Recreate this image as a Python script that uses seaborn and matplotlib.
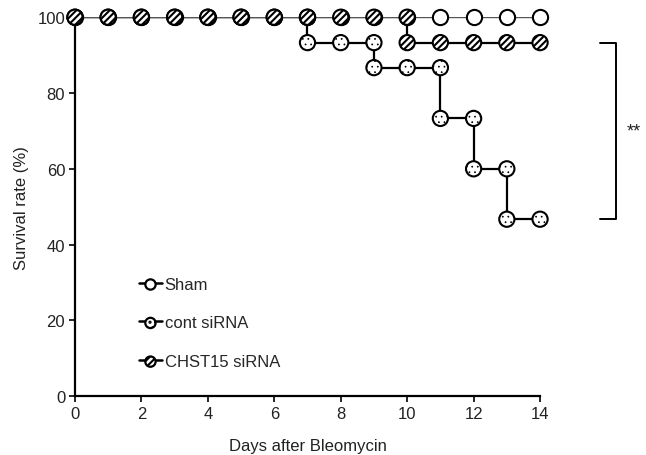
import matplotlib
matplotlib.use("Agg")
import matplotlib.pyplot as plt
import seaborn as sns
import pandas as pd
from matplotlib.lines import Line2D
from matplotlib.legend_handler import HandlerTuple

sns.set_theme(style="ticks")
plt.rcParams['font.family'] = ['Liberation Sans', 'DejaVu Sans']
plt.rcParams['hatch.linewidth'] = 1.5

# Data (survival %, step points incl. drop points)
sham_days = [0, 1, 2, 3, 4, 5, 6, 7, 8, 9, 10, 11, 12, 13, 14]
sham_surv = [100] * 15
cont_days = [0, 1, 2, 3, 4, 5, 6, 7, 7, 8, 9, 9, 10, 11, 11, 12, 12, 13, 13, 14]
cont_surv = [100, 100, 100, 100, 100, 100, 100, 100, 93.3, 93.3, 93.3, 86.7, 86.7,
             86.7, 73.3, 73.3, 60, 60, 46.7, 46.7]
chst_days = [0, 1, 2, 3, 4, 5, 6, 7, 8, 9, 10, 10, 11, 12, 13, 14]
chst_surv = [100] * 11 + [93.3] * 5
labels = ["Sham", "cont siRNA", "CHST15 siRNA"]
xticks = [0, 2, 4, 6, 8, 10, 12, 14]
yticks = [0, 20, 40, 60, 80, 100]

fig = plt.figure(figsize=(6.46, 4.56), dpi=100)
ax = fig.add_axes([0.116, 0.129, 0.72, 0.831])

df_cont = pd.DataFrame({"d": cont_days, "s": cont_surv})
df_chst = pd.DataFrame({"d": chst_days, "s": chst_surv})
df_sham = pd.DataFrame({"d": sham_days, "s": sham_surv})

sns.lineplot(data=df_cont, x="d", y="s", sort=False, estimator=None, color="black",
             lw=1.6, ax=ax, zorder=2)
sns.lineplot(data=df_chst, x="d", y="s", sort=False, estimator=None, color="black",
             lw=1.6, ax=ax, zorder=2)
sns.lineplot(data=df_sham, x="d", y="s", sort=False, estimator=None, color="#555555",
             lw=1.0, ax=ax, zorder=3)


def thin_dots(coll):
    if hasattr(coll, "set_hatch_linewidth"):
        try:
            coll.set_hatch_linewidth(0.5)
        except Exception:
            pass


ms = 120
ax.scatter(sham_days, sham_surv, s=ms, facecolor="white", edgecolor="black",
           linewidth=1.5, zorder=4, clip_on=False)
c = ax.scatter(cont_days, cont_surv, s=ms, facecolor="white", edgecolor="black",
               linewidth=1.5, hatch="...", zorder=5, clip_on=False)
thin_dots(c)
ax.scatter(chst_days, chst_surv, s=ms, facecolor="white", edgecolor="black",
           linewidth=1.5, hatch="/////", zorder=6, clip_on=False)

ax.set_xlim(0, 14)
ax.set_ylim(0, 100)
ax.set_xticks(xticks)
ax.set_yticks(yticks)
ax.tick_params(direction="out", length=4, width=1.2, labelsize=12, colors="black",
               pad=3)
for t in ax.get_xticklabels() + ax.get_yticklabels():
    t.set_color("#222222")
sns.despine(ax=ax)
for sp in ["left", "bottom"]:
    ax.spines[sp].set_linewidth(1.6)
    ax.spines[sp].set_color("black")
ax.set_xlabel("Days after Bleomycin", fontsize=12, labelpad=12, color="#222222")
ax.set_ylabel("Survival rate (%)", fontsize=12, labelpad=6, color="#222222")

# legend
handles = []
styles = [dict(hatch=None), dict(hatch="..."), dict(hatch="/////")]
for st in styles:
    ln = Line2D([], [], color="black", lw=1.8)
    sc = ax.scatter([], [], s=55, facecolor="white", edgecolor="black", linewidth=1.6, **st)
    if st["hatch"] == "...":
        thin_dots(sc)
    handles.append((ln, sc))
ax.legend(handles, labels, handler_map={tuple: HandlerTuple(ndivide=1)},
          loc="upper left", bbox_to_anchor=(0.105, 0.355), frameon=False,
          fontsize=12, handlelength=1.4, handletextpad=0.15, labelspacing=1.42,
          scatterpoints=1)

# significance bracket
ax.plot([15.8, 16.3, 16.3, 15.8], [93.3, 93.3, 46.7, 46.7], color="black", lw=1.4,
        clip_on=False)
ax.text(16.6, 70, "**", fontsize=13, va="center", ha="left", color="#222222")

fig.savefig("out.png", dpi=100)
